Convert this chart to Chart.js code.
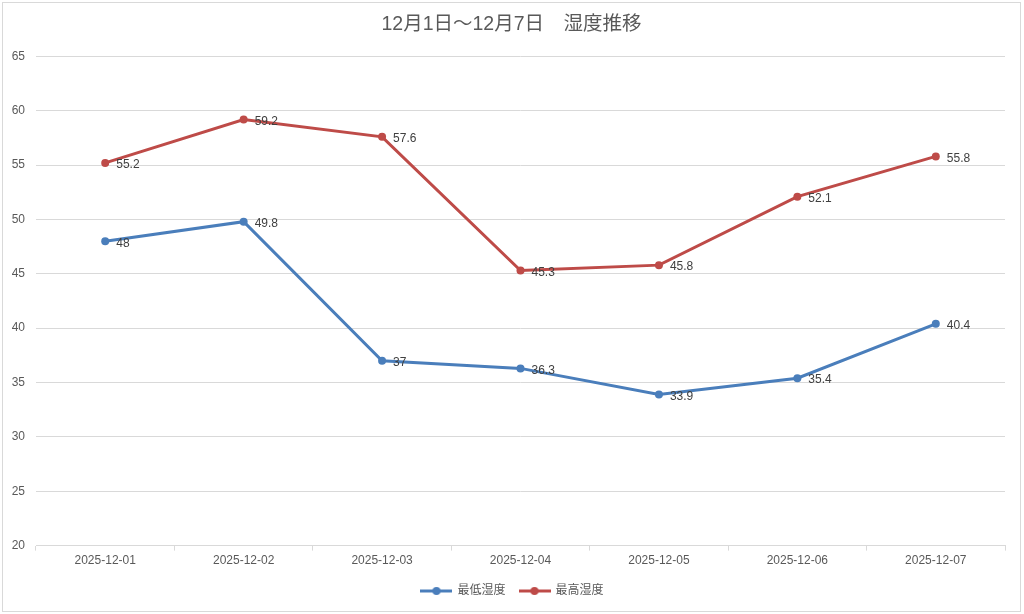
<!DOCTYPE html>
<html>
<head>
<meta charset="utf-8">
<script src="https://cdn.jsdelivr.net/npm/chart.js@4/dist/chart.umd.min.js"></script>
<style>
html,body{margin:0;padding:0;background:#fff;}
#wrap{width:1024px;height:614px;position:relative;}
</style>
</head>
<body>
<div id="wrap"><canvas id="c" width="1024" height="614"></canvas></div>
<script>
const categories = ["2025-12-01","2025-12-02","2025-12-03","2025-12-04","2025-12-05","2025-12-06","2025-12-07"];
const lowHumidity = [48, 49.8, 37, 36.3, 33.9, 35.4, 40.4];
const highHumidity = [55.2, 59.2, 57.6, 45.3, 45.8, 52.1, 55.8];
const seriesNames = ["最低湿度", "最高湿度"];
const titleText = "12月1日～12月7日　湿度推移";

const FONT = "'Liberation Sans', 'Noto Sans CJK JP', sans-serif";
const BLUE = "#4A7EBB";
const RED = "#BE4B48";

function legendIcon(color){
  const cv = document.createElement('canvas');
  cv.width = 32; cv.height = 10;
  const c = cv.getContext('2d');
  c.strokeStyle = color; c.lineWidth = 3; c.lineCap = 'butt';
  c.beginPath(); c.moveTo(0,5); c.lineTo(32,5); c.stroke();
  c.fillStyle = color;
  c.beginPath(); c.arc(16,5,4,0,Math.PI*2); c.fill();
  return cv;
}

const bgPlugin = {
  id:'bg',
  beforeDraw(chart){
    const ctx = chart.ctx;
    ctx.save();
    ctx.fillStyle = '#fff';
    ctx.fillRect(0,0,chart.width,chart.height);
    ctx.strokeStyle = '#d9d9d9';
    ctx.lineWidth = 1;
    ctx.strokeRect(2.5,2.5,chart.width-6,chart.height-5);
    ctx.restore();
  }
};

const boxShift = {
  id:'boxShift',
  afterLayout(chart){
    const lg = chart.legend;
    if (lg) {
      const dx = 10;
      lg.left += dx; lg.right += dx;
      if (lg.legendHitBoxes) lg.legendHitBoxes.forEach(h => { h.left += dx; });
    }
    const tb = chart.titleBlock;
    if (tb) {
      const tx = 9;
      tb.left += tx; tb.right += tx;
    }
  }
};

const labelPlugin = {
  id:'dlabels',
  afterDatasetsDraw(chart){
    const ctx = chart.ctx;
    ctx.save();
    ctx.font = "12px " + FONT;
    ctx.fillStyle = '#404040';
    ctx.textAlign = 'left';
    ctx.textBaseline = 'middle';
    chart.data.datasets.forEach((ds, i) => {
      const meta = chart.getDatasetMeta(i);
      meta.data.forEach((pt, j) => {
        ctx.fillText(String(ds.data[j]), pt.x + 11, pt.y + 2);
      });
    });
    ctx.restore();
  }
};

new Chart(document.getElementById('c'), {
  type:'line',
  data:{
    labels: categories,
    datasets:[
      {label: seriesNames[0], data: lowHumidity, borderColor: BLUE, backgroundColor: BLUE, borderWidth:3, pointRadius:4, pointBackgroundColor: BLUE, pointBorderWidth:0, tension:0},
      {label: seriesNames[1], data: highHumidity, borderColor: RED, backgroundColor: RED, borderWidth:3, pointRadius:4, pointBackgroundColor: RED, pointBorderWidth:0, tension:0}
    ]
  },
  options:{
    responsive:false,
    animation:false,
    devicePixelRatio:1,
    layout:{padding:{top:4, right:19, bottom:7, left:0}},
    plugins:{
      title:{display:true, text:titleText, color:'#595959', font:{family:FONT, size:19.5, weight:'normal'}, padding:{top:9, bottom:20}},
      legend:{
        position:'bottom',
        labels:{
          color:'#595959',
          font:{family:FONT, size:12},
          usePointStyle:true,
          pointStyleWidth:30,
          padding:14,
          generateLabels(chart){
            return chart.data.datasets.map((ds,i)=>({
              text: ds.label,
              pointStyle: legendIcon(ds.borderColor),
              fillStyle: ds.borderColor,
              strokeStyle: ds.borderColor,
              lineWidth:0,
              fontColor:'#595959',
              datasetIndex:i,
              hidden:false
            }));
          }
        }
      },
      tooltip:{enabled:false}
    },
    scales:{
      x:{
        offset:true,
        grid:{display:true, drawOnChartArea:false, drawTicks:true, tickLength:5, color:'#d9d9d9', offset:true},
        border:{display:true, color:'#d9d9d9'},
        ticks:{color:'#595959', font:{family:FONT, size:12}, padding:3, maxRotation:0}
      },
      y:{
        min:20, max:65,
        afterFit(s){ s.width = 36; },
        grid:{color:'#d9d9d9', drawTicks:false},
        border:{display:false},
        ticks:{stepSize:5, color:'#595959', font:{family:FONT, size:12}, padding:11}
      }
    }
  },
  plugins:[bgPlugin, boxShift, labelPlugin]
});
</script>
</body>
</html>
